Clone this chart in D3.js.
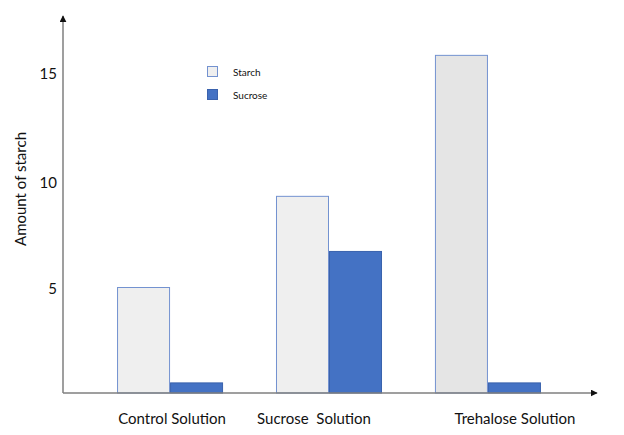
<!DOCTYPE html>
<html><head><meta charset="utf-8">
<script src="https://cdn.jsdelivr.net/npm/d3@7"></script>
<style>body{margin:0;background:#fff}svg{display:block}text{font-family:Lato,"Open Sans",sans-serif}</style>
</head><body>
<script>
const categories = ["Control Solution", "Sucrose  Solution", "Trehalose Solution"];
const seriesNames = ["Starch", "Sucrose"];
const starchValues = [5.0, 9.3, 15.95];
const sucroseValues = [0.5, 6.7, 0.5];
const yTicks = [5, 10, 15];
const yLabel = "Amount of starch";

const W = 624, H = 435;
const svg = d3.select("body").append("svg").attr("width", W).attr("height", H);

const x0 = 63, x1 = 595, yBase = 393;
const y = d3.scaleLinear().domain([0, 15]).range([yBase, 75]);
const x = d3.scaleBand().domain(categories).range([x0, x1]).paddingInner(0.333).paddingOuter(0.34);
const xs = d3.scaleBand().domain(seriesNames).range([0, x.bandwidth()]).padding(0);
const fills = {Starch: "#efefef", Sucrose: "#4472c4"};
const strokes = {Starch: "#7392d0", Sucrose: "#3a62ad"};

const data = categories.map((c, i) => ({cat: c, vals: [
  {s: "Starch", v: starchValues[i]}, {s: "Sucrose", v: sucroseValues[i]}]}));

const g = svg.append("g").selectAll("g").data(data).join("g")
  .attr("transform", d => `translate(${x(d.cat)},0)`);
g.selectAll("rect").data(d => d.vals).join("rect")
  .attr("x", d => xs(d.s) + 0.5)
  .attr("y", d => y(d.v) + 0.5)
  .attr("width", xs.bandwidth() - 1)
  .attr("height", d => yBase - y(d.v) - 0.5)
  .attr("fill", (d, i, n) => d.s === "Starch" && d3.select(n[i].parentNode).datum().cat.startsWith("Trehalose") ? "#e5e5e5" : fills[d.s])
  .attr("stroke", d => strokes[d.s])
  .attr("stroke-width", 1);

// axes lines with arrowheads
const defs = svg.append("defs");
defs.append("marker").attr("id", "arr").attr("viewBox", "0 0 10 10")
  .attr("refX", 9).attr("refY", 5).attr("markerWidth", 7).attr("markerHeight", 7)
  .attr("markerUnits", "userSpaceOnUse").attr("orient", "auto")
  .append("path").attr("d", "M0,0L10,5L0,10z").attr("fill", "#111");

svg.append("line").attr("x1", x0).attr("y1", yBase).attr("x2", x0).attr("y2", 16)
  .attr("stroke", "#7f7f7f").attr("stroke-width", 1.5).attr("marker-end", "url(#arr)");
svg.append("line").attr("x1", x0).attr("y1", yBase).attr("x2", x1 + 2).attr("y2", yBase)
  .attr("stroke", "#7f7f7f").attr("stroke-width", 1.5).attr("marker-end", "url(#arr)");

// y tick labels
svg.append("g").selectAll("text").data(yTicks).join("text")
  .attr("x", 57).attr("y", d => y(d) + (d === 15 ? -1 : 2)).attr("dy", "0.35em")
  .attr("text-anchor", "end").attr("font-size", 15).attr("fill", "#111")
  .text(d => d);

// category labels
const labelShift = {"Control Solution": 2, "Sucrose  Solution": -15, "Trehalose Solution": 27};
svg.append("g").selectAll("text").data(categories).join("text")
  .attr("x", d => x(d) + x.bandwidth() / 2 + labelShift[d])
  .attr("y", 424).attr("text-anchor", "middle").attr("font-size", 15).attr("fill", "#111")
  .style("white-space", "pre").attr("xml:space", "preserve")
  .text(d => d);

// y label
svg.append("text").attr("transform", "translate(26,189) rotate(-90)")
  .attr("text-anchor", "middle").attr("font-size", 15).attr("fill", "#111").text(yLabel);

// legend
const lg = svg.append("g").selectAll("g").data(seriesNames).join("g")
  .attr("transform", (d, i) => `translate(207,${66 + i * 23})`);
lg.append("rect").attr("x", 0.5).attr("y", 0.5).attr("width", 10).attr("height", 10)
  .attr("fill", d => fills[d]).attr("stroke", d => strokes[d]);
lg.append("text").attr("x", 26).attr("y", 6).attr("dy", "0.35em")
  .attr("font-size", 10).attr("fill", "#111").text(d => d);
</script>
</body></html>
